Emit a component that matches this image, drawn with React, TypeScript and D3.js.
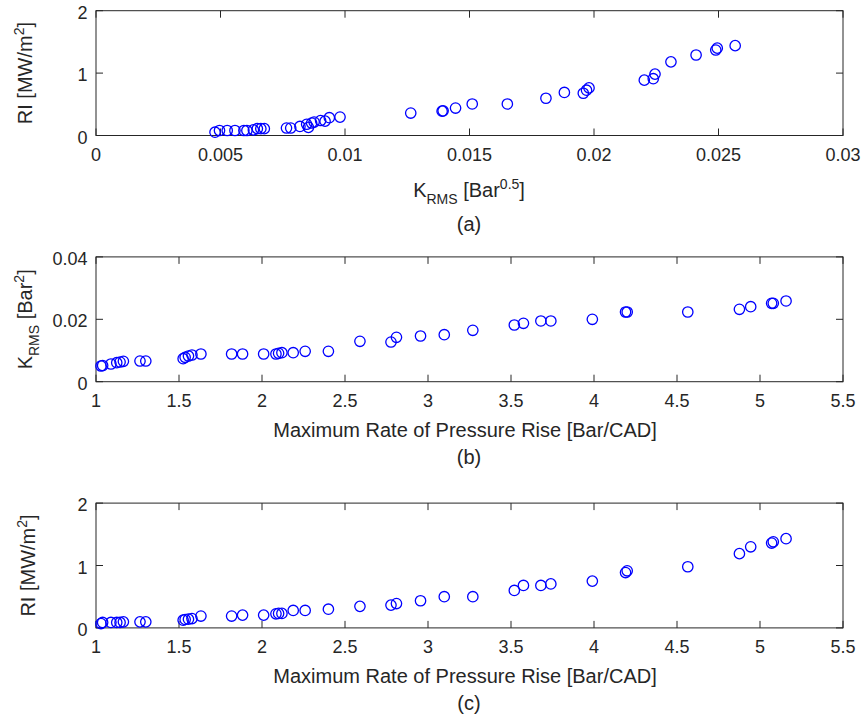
import React from 'react';
import * as d3 from 'd3';

// Panel (a): K_RMS vs RI
const krmsA = [0.00478, 0.00496, 0.00527, 0.00558, 0.00594, 0.00606, 0.00632, 0.00648, 0.00662, 0.00676,
  0.00765, 0.00782, 0.00819, 0.00846, 0.00853, 0.00866, 0.00876, 0.00902, 0.0092, 0.00937, 0.0098,
  0.01264, 0.0139, 0.01394, 0.01444, 0.01511, 0.01652, 0.01807, 0.01881, 0.01957, 0.0197, 0.0198,
  0.02202, 0.02238, 0.02245, 0.02309, 0.0241, 0.02489, 0.02495, 0.02567];
const riA = [0.053, 0.08, 0.08, 0.08, 0.08, 0.08, 0.09, 0.11, 0.11, 0.11,
  0.12, 0.12, 0.145, 0.18, 0.13, 0.2, 0.215, 0.24, 0.23, 0.285, 0.295,
  0.36, 0.39, 0.395, 0.44, 0.505, 0.505, 0.597, 0.69, 0.677, 0.726, 0.763,
  0.887, 0.91, 0.984, 1.18, 1.29, 1.37, 1.4, 1.44];

// Panels (b), (c): Maximum rate of pressure rise
const mrpr = [1.03, 1.04, 1.09, 1.125, 1.145, 1.165, 1.265, 1.3, 1.525, 1.537, 1.557, 1.578, 1.632,
  1.817, 1.883, 2.01, 2.084, 2.1, 2.12, 2.188, 2.26, 2.4, 2.59, 2.777, 2.81, 2.955, 3.098, 3.27,
  3.52, 3.575, 3.68, 3.74, 3.99, 4.19, 4.2, 4.565, 4.876, 4.944, 5.07, 5.08, 5.157];
const krmsB = [0.00503, 0.00519, 0.00567, 0.00609, 0.00631, 0.00654, 0.00663, 0.00663, 0.00737, 0.00782,
  0.00824, 0.00856, 0.00888, 0.00888, 0.00888, 0.00888, 0.00888, 0.0091, 0.0093, 0.0093, 0.00974,
  0.00974, 0.01295, 0.01272, 0.01423, 0.01465, 0.01506, 0.01647, 0.01817, 0.01872, 0.01946, 0.01946,
  0.02, 0.02234, 0.02234, 0.02234, 0.0232, 0.02404, 0.02513, 0.02513, 0.02587];
const riC = [0.07, 0.087, 0.087, 0.087, 0.087, 0.097, 0.097, 0.097, 0.124, 0.135, 0.14, 0.15, 0.19,
  0.19, 0.205, 0.205, 0.226, 0.232, 0.232, 0.28, 0.28, 0.3, 0.345, 0.365, 0.39, 0.435, 0.5, 0.5,
  0.6, 0.68, 0.68, 0.705, 0.75, 0.887, 0.915, 0.98, 1.19, 1.3, 1.36, 1.38, 1.43];

const xTicksA = [0, 0.005, 0.01, 0.015, 0.02, 0.025, 0.03];
const xTickLabelsA = ['0', '0.005', '0.01', '0.015', '0.02', '0.025', '0.03'];
const xTicksM = [1, 1.5, 2, 2.5, 3, 3.5, 4, 4.5, 5, 5.5];
const xTickLabelsM = ['1', '1.5', '2', '2.5', '3', '3.5', '4', '4.5', '5', '5.5'];
const yTicksRI = [0, 1, 2];
const yTickLabelsRI = ['0', '1', '2'];
const yTicksK = [0, 0.02, 0.04];
const yTickLabelsK = ['0', '0.02', '0.04'];

const FONT = "'Liberation Sans', Arial, Helvetica, sans-serif";
const AX = '#262626';
const LEFT = 96;
const RIGHT = 843;
const H = 124.8;
const TICK = 7;

type PanelProps = {
  top: number;
  xDomain: [number, number];
  yDomain: [number, number];
  xTicks: number[];
  xTickLabels: string[];
  yTicks: number[];
  yTickLabels: string[];
  xs: number[];
  ys: number[];
  xLabel: React.ReactNode;
  xLabelX: number;
  xLabelY: number;
  yLabel: React.ReactNode;
  yLabelX: number;
  caption: string;
  captionY: number;
};

function Panel(p: PanelProps) {
  const bottom = p.top + H;
  const x = d3.scaleLinear().domain(p.xDomain).range([LEFT, RIGHT]);
  const y = d3.scaleLinear().domain(p.yDomain).range([bottom, p.top]);
  const cy = (p.top + bottom) / 2;
  return (
    <g>
      <rect x={LEFT} y={p.top} width={RIGHT - LEFT} height={H} fill="none" stroke={AX} strokeWidth={1} />
      {p.xTicks.map((t, i) => (
        <g key={'xt' + i}>
          <line x1={x(t)} x2={x(t)} y1={bottom} y2={bottom - TICK} stroke={AX} strokeWidth={1} />
          <line x1={x(t)} x2={x(t)} y1={p.top} y2={p.top + TICK} stroke={AX} strokeWidth={1} />
          <text x={x(t)} y={bottom + 25.5} textAnchor="middle" fontSize={18} fill={AX} fontFamily={FONT}>
            {p.xTickLabels[i]}
          </text>
        </g>
      ))}
      {p.yTicks.map((t, i) => (
        <g key={'yt' + i}>
          <line x1={LEFT} x2={LEFT + TICK} y1={y(t)} y2={y(t)} stroke={AX} strokeWidth={1} />
          <line x1={RIGHT} x2={RIGHT - TICK} y1={y(t)} y2={y(t)} stroke={AX} strokeWidth={1} />
          <text x={87.5} y={y(t) + 8} textAnchor="end" fontSize={18} fill={AX} fontFamily={FONT}>
            {p.yTickLabels[i]}
          </text>
        </g>
      ))}
      {p.xs.map((v, i) => (
        <circle key={'pt' + i} cx={x(v)} cy={y(p.ys[i])} r={5.2} fill="none" stroke="#0000ff" strokeWidth={1.3} />
      ))}
      <text x={p.xLabelX} y={p.xLabelY} textAnchor="middle" fontSize={20} fill={AX} fontFamily={FONT}>
        {p.xLabel}
      </text>
      <text transform={`translate(${p.yLabelX},${cy}) rotate(-90)`} textAnchor="middle" fontSize={20} fill={AX} fontFamily={FONT}>
        {p.yLabel}
      </text>
      <text x={469} y={p.captionY} textAnchor="middle" fontSize={20} fill={AX} fontFamily={FONT}>
        {p.caption}
      </text>
    </g>
  );
}

const riLabel = (
  <>
    RI [MW/m<tspan dy={-8} fontSize={14}>2</tspan><tspan dy={8}>]</tspan>
  </>
);

export default function App() {
  return (
    <svg width={864} height={722} style={{ position: 'absolute', left: 0, top: 0, background: '#fff' }}>
      <rect x={0} y={0} width={864} height={722} fill="#fff" />
      <Panel
        top={10.7}
        xDomain={[0, 0.03]}
        yDomain={[0, 2]}
        xTicks={xTicksA}
        xTickLabels={xTickLabelsA}
        yTicks={yTicksRI}
        yTickLabels={yTickLabelsRI}
        xs={krmsA}
        ys={riA}
        xLabel={
          <>
            K<tspan dy={7} fontSize={14}>RMS</tspan><tspan dy={-7}> [Bar</tspan>
            <tspan dy={-7.5} fontSize={14}>0.5</tspan><tspan dy={7.5}>]</tspan>
          </>
        }
        xLabelX={469}
        xLabelY={196.7}
        yLabel={riLabel}
        yLabelX={32}
        caption="(a)"
        captionY={231}
      />
      <Panel
        top={256.9}
        xDomain={[1, 5.5]}
        yDomain={[0, 0.04]}
        xTicks={xTicksM}
        xTickLabels={xTickLabelsM}
        yTicks={yTicksK}
        yTickLabels={yTickLabelsK}
        xs={mrpr}
        ys={krmsB}
        xLabel="Maximum Rate of Pressure Rise [Bar/CAD]"
        xLabelX={465}
        xLabelY={436.7}
        yLabel={
          <>
            K<tspan dy={7} fontSize={14}>RMS</tspan><tspan dy={-7}> [Bar</tspan>
            <tspan dy={-8} fontSize={14}>2</tspan><tspan dy={8}>]</tspan>
          </>
        }
        yLabelX={32}
        caption="(b)"
        captionY={463.7}
      />
      <Panel
        top={503.1}
        xDomain={[1, 5.5]}
        yDomain={[0, 2]}
        xTicks={xTicksM}
        xTickLabels={xTickLabelsM}
        yTicks={yTicksRI}
        yTickLabels={yTickLabelsRI}
        xs={mrpr}
        ys={riC}
        xLabel="Maximum Rate of Pressure Rise [Bar/CAD]"
        xLabelX={465}
        xLabelY={683}
        yLabel={riLabel}
        yLabelX={34.5}
        caption="(c)"
        captionY={710}
      />
    </svg>
  );
}
